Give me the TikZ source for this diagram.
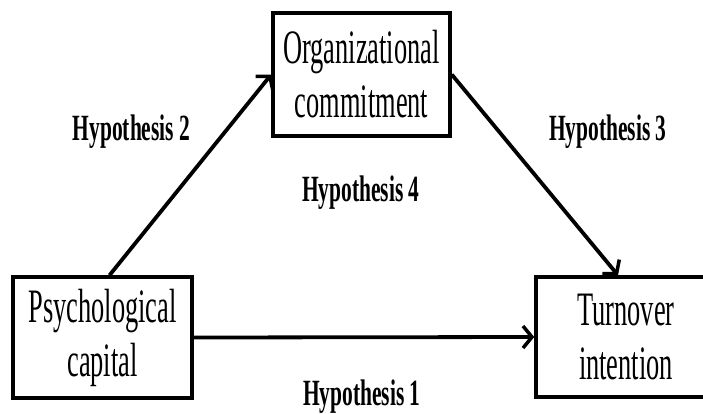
\documentclass[tikz,border=0pt]{standalone}
\usepackage{fontspec}
\setmainfont{Liberation Serif}[FakeStretch=0.55]
\newfontfamily\hypfont{Liberation Serif}[FakeStretch=0.58]
\usetikzlibrary{arrows.meta}
\begin{document}
\begin{tikzpicture}[x=1pt, y=-1pt,
    box/.style = {draw, line width=3.5pt, align=center, inner sep=0pt,
      font=\fontsize{48}{54}\selectfont},
    hyp/.style = {anchor=base, font=\hypfont\bfseries\fontsize{37}{40}\selectfont},
    link/.style = {line width=3.8pt, -{Straight Barb[length=9pt, width=22pt, line width=3.5pt]}}]
    \useasboundingbox (0,0) rectangle (703,413);
    \clip (0,0) rectangle (703,413);
    \node[box, minimum width=177pt, minimum height=123pt] (org) at (361.5,74.5) {Organizational\\commitment};
    \node[box, minimum width=179pt, minimum height=121pt] (psy) at (102.5,337.5) {Psychological\\capital};
    \node[box, minimum width=180pt, minimum height=120pt] (turn) at (626,337) {Turnover\\intention};
    \draw[link] ([xshift=7pt]psy.north) -- (org.west);
    \draw[link] (org.east) -- ([xshift=-8pt]turn.north);
    \draw[link] (psy.east) -- (turn.west);
    \node[hyp] (h1) at (362,405) {Hypothesis 1};
    \node[hyp] (h2) at (131.5,140) {Hypothesis 2};
    \node[hyp] (h3) at (608,140) {Hypothesis 3};
    \node[hyp] (h4) at (361,201) {Hypothesis 4};
\end{tikzpicture}
\end{document}
